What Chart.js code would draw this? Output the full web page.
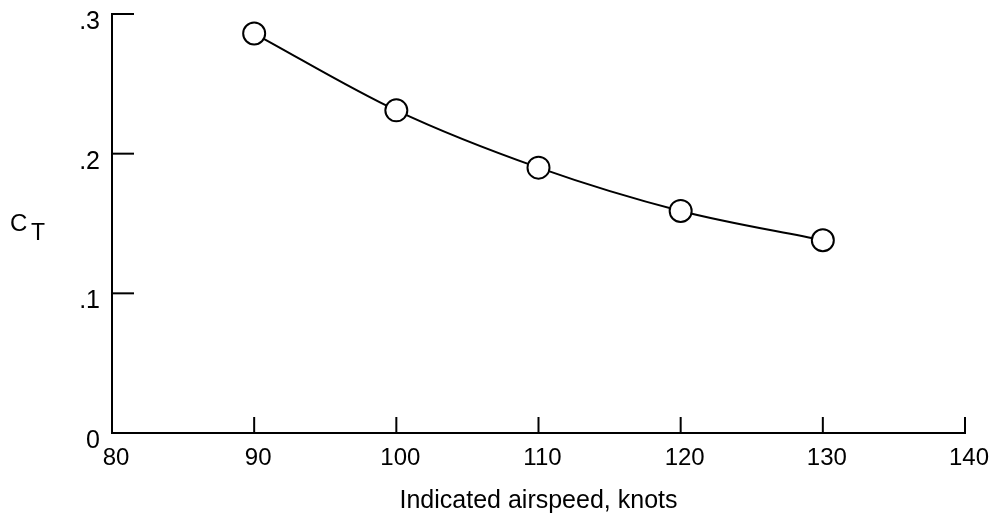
<!DOCTYPE html>
<html>
<head>
<meta charset="utf-8">
<script src="https://cdn.jsdelivr.net/npm/chart.js@4/dist/chart.umd.min.js"></script>
<style>
  html, body { margin: 0; padding: 0; background: #fff; }
  #wrap { width: 1000px; height: 521px; position: relative; }
</style>
</head>
<body>
<div id="wrap"><canvas id="myChart"></canvas></div>
<script>
const airspeed = [90, 100, 110, 120, 130];
const ctValues = [0.286, 0.231, 0.190, 0.159, 0.138];
const xTicks = [80, 90, 100, 110, 120, 130, 140];
const yTicks = [0, 0.1, 0.2, 0.3];

const font = 'Liberation Sans, Arial, Helvetica, sans-serif';

// ticks pointing into the plot, plus the horizontal C_T label
const innerTicks = {
    id: 'innerTicks',
    afterDraw(chart) {
        const { ctx, chartArea, scales } = chart;
        ctx.save();
        ctx.strokeStyle = '#000';
        ctx.lineWidth = 2;
        xTicks.forEach(v => {
            const px = scales.x.getPixelForValue(v);
            ctx.beginPath();
            ctx.moveTo(px, chartArea.bottom);
            ctx.lineTo(px, chartArea.bottom - 16);
            ctx.stroke();
        });
        yTicks.forEach(v => {
            const py = scales.y.getPixelForValue(v);
            ctx.beginPath();
            ctx.moveTo(chartArea.left, py);
            ctx.lineTo(chartArea.left + 22, py);
            ctx.stroke();
        });
        ctx.fillStyle = '#000';
        ctx.textBaseline = 'alphabetic';
        ctx.font = '24px ' + font;
        ctx.fillText('C', 10, 231);
        ctx.font = '23px ' + font;
        ctx.fillText('T', 31, 240);
        ctx.restore();
    }
};

const configChart = {
    type: 'scatter',
    data: {
        datasets: [{
            data: airspeed.map((x, i) => ({ x: x, y: ctValues[i] })),
            showLine: true,
            cubicInterpolationMode: 'monotone',
            borderColor: '#000',
            borderWidth: 2,
            pointRadius: 11,
            pointBorderWidth: 2,
            pointBackgroundColor: '#fff',
            pointBorderColor: '#000',
        }],
    },
    options: {
        responsive: true,
        maintainAspectRatio: false,
        animation: false,
        layout: { padding: { top: 14, right: 35, left: 0, bottom: 0 } },
        plugins: { legend: { display: false }, tooltip: { enabled: false } },
        scales: {
            x: {
                type: 'linear',
                min: 80,
                max: 140,
                afterFit: scale => { scale.height = 88; },
                afterBuildTicks: scale => { scale.ticks = xTicks.map(v => ({ value: v })); },
                grid: { drawOnChartArea: false, drawTicks: false },
                border: { display: true, color: '#000', width: 2 },
                ticks: {
                    color: '#000',
                    padding: 11,
                    labelOffset: 4,
                    font: { family: font, size: 24 },
                },
                title: {
                    display: true,
                    text: 'Indicated airspeed, knots',
                    color: '#000',
                    font: { family: font, size: 25 },
                    padding: { top: 0, bottom: 5 },
                },
            },
            y: {
                type: 'linear',
                min: 0,
                max: 0.3,
                afterFit: scale => { scale.width = 112; scale.paddingTop = 0; },
                afterBuildTicks: scale => { scale.ticks = yTicks.map(v => ({ value: v })); },
                grid: { drawOnChartArea: false, drawTicks: false },
                border: { display: true, color: '#000', width: 2 },
                ticks: {
                    color: '#000',
                    padding: 12,
                    labelOffset: 8,
                    font: { family: font, size: 25 },
                    callback: v => v === 0 ? '0' : '.' + Math.round(v * 10),
                },
            },
        },
    },
    plugins: [innerTicks],
};

const myChart = new Chart(document.getElementById('myChart'), configChart);
</script>
</body>
</html>
